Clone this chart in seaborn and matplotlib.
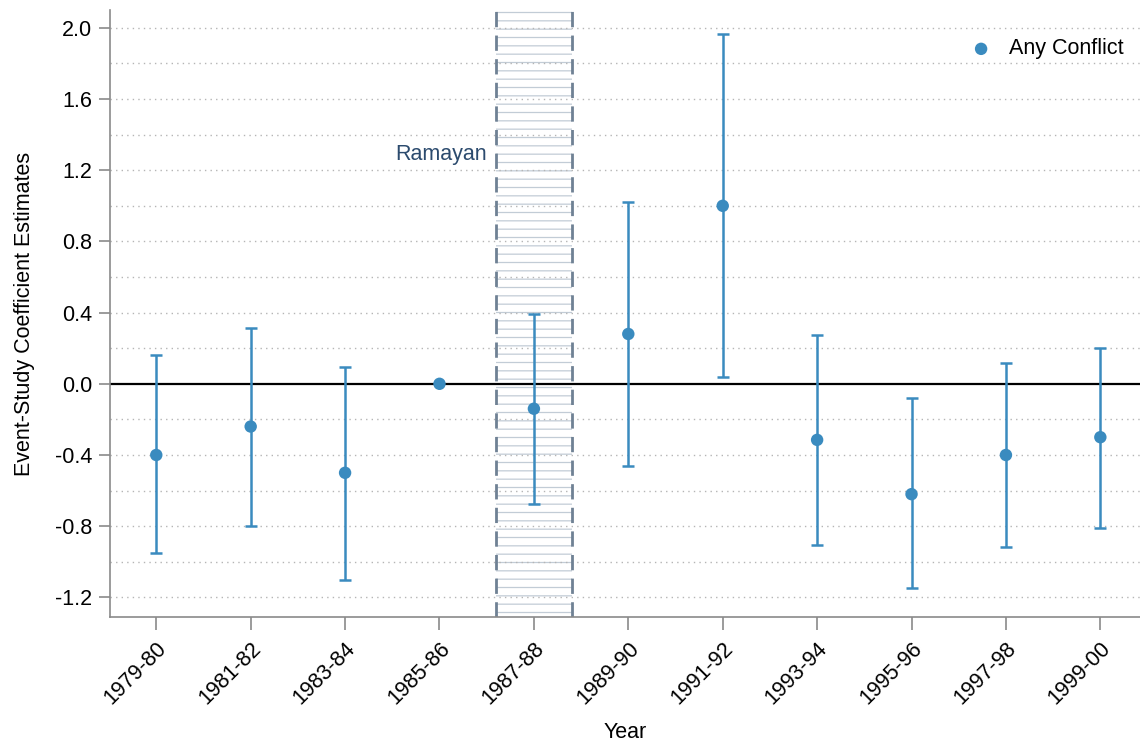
import numpy as np
import pandas as pd
import seaborn as sns
import matplotlib.pyplot as plt

# Event-study estimates
years = ["1979-80", "1981-82", "1983-84", "1985-86", "1987-88", "1989-90",
         "1991-92", "1993-94", "1995-96", "1997-98", "1999-00"]
estimate = [-0.40, -0.24, -0.50, 0.00, -0.14, 0.28, 1.00, -0.315, -0.62, -0.40, -0.30]
ci_low = [-0.95, -0.80, -1.10, np.nan, -0.675, -0.46, 0.04, -0.905, -1.15, -0.915, -0.81]
ci_high = [0.16, 0.315, 0.095, np.nan, 0.39, 1.02, 1.965, 0.275, -0.08, 0.115, 0.20]
yticks = [-1.2, -0.8, -0.4, 0.0, 0.4, 0.8, 1.2, 1.6, 2.0]

blue = "#3a8bbf"
axis_grey = "#8a8a8a"
fs = 15.5

sns.set_style("white")
plt.rcParams["font.family"] = ["Liberation Sans", "DejaVu Sans"]
plt.rcParams["hatch.linewidth"] = 0.9
for key in ("text.color", "axes.labelcolor", "xtick.labelcolor", "ytick.labelcolor"):
    plt.rcParams[key] = "black"

df = pd.DataFrame({"year": years, "est": estimate, "lo": ci_low, "hi": ci_high})
df["pos"] = np.arange(len(df))

fig = plt.figure(figsize=(11.4, 7.42), dpi=100)
ax = fig.add_axes([0.0965, 0.1685, 0.9035, 0.818])

# Ramayan broadcast window (shaded band around 1987-88)
ax.axvspan(3.6, 4.4, facecolor="white", edgecolor="#c2ccd6", hatch="--",
           linewidth=0, zorder=0)
for xv in (3.6, 4.4):
    ax.axvline(xv, color="#6f8194", linestyle=(0, (5.5, 3)), linewidth=2.0, zorder=1)
ax.text(3.5, 1.29, "Ramayan", ha="right", va="center", fontsize=fs, color="#2c4b6e")

# dotted grid every 0.2
for yv in np.arange(-1.2, 2.01, 0.2):
    if abs(yv) > 1e-9:
        ax.axhline(yv, color="#b5b5b5", linestyle=(0, (1, 3)), linewidth=1.0, zorder=0.5)
ax.axhline(0, color="black", linewidth=1.6, zorder=1.5)

d = df.dropna()
ax.errorbar(d["pos"], d["est"], yerr=[d["est"] - d["lo"], d["hi"] - d["est"]],
            fmt="none", ecolor=blue, elinewidth=1.8, capsize=4.5, capthick=1.8, zorder=2)
sns.scatterplot(data=df, x="pos", y="est", color=blue, s=80, edgecolor="none",
                label="Any Conflict", ax=ax, zorder=3)

ax.set_xlim(-0.49, 10.42)
ax.set_ylim(-1.31, 2.1)
ax.set_xticks(df["pos"])
ax.set_xticklabels(years, rotation=45, ha="right", rotation_mode="anchor", fontsize=fs)
ax.set_yticks(yticks)
ax.set_yticklabels([f"{t:.1f}" for t in yticks], fontsize=fs)
ax.tick_params(axis="both", bottom=True, left=True, direction="out", width=1.2,
               color=axis_grey, pad=5)
ax.tick_params(axis="y", length=8)
ax.tick_params(axis="x", length=9, pad=6)
ax.set_xlabel("Year", fontsize=fs, labelpad=10)
ax.set_ylabel("Event-Study Coefficient Estimates", fontsize=fs, labelpad=14)

for side in ("top", "right"):
    ax.spines[side].set_visible(False)
for side in ("left", "bottom"):
    ax.spines[side].set_color(axis_grey)
    ax.spines[side].set_linewidth(1.2)

leg = ax.legend(loc="upper right", frameon=False, fontsize=fs, handletextpad=0.3,
                bbox_to_anchor=(1.003, 0.985))

fig.savefig("out.png", dpi=100)
